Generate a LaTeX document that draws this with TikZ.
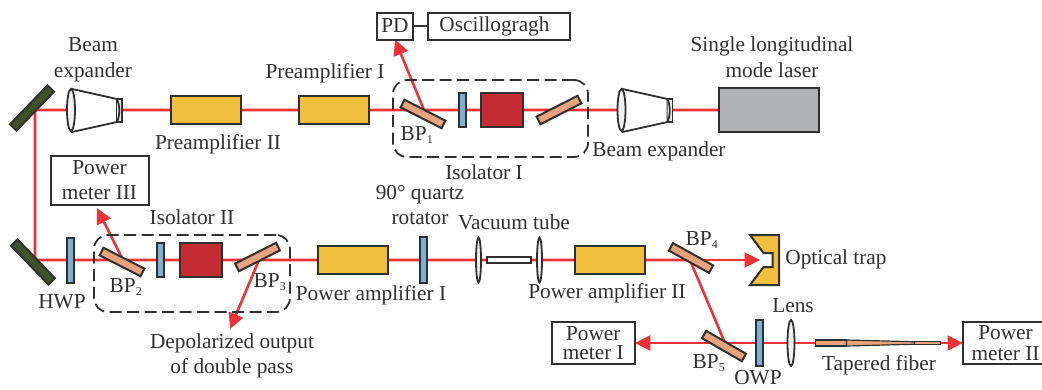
\documentclass[tikz,border=0pt]{standalone}
\usepackage{fontspec}
\setmainfont{Liberation Serif}
\usetikzlibrary{arrows.meta,backgrounds,shapes.geometric}
\definecolor{inkgray}{HTML}{303030}
\definecolor{beamred}{HTML}{EE3338}
\definecolor{ampyellow}{HTML}{F1BF3E}
\definecolor{isored}{HTML}{C42B33}
\definecolor{waveblue}{HTML}{7FAFD6}
\definecolor{platesalmon}{HTML}{E9A37C}
\definecolor{mirrorgreen}{HTML}{3F5229}
\definecolor{lasergray}{HTML}{B1B2B4}
\newcommand{\bpname}[1]{BP\textsubscript{\fontsize{12}{12}\selectfont #1}}
\tikzset{
  part/.style={draw=inkgray,line width=2pt,inner sep=0pt,outer sep=0pt},
  amp/.style={part,fill=ampyellow,minimum width=70pt,minimum height=28pt},
  faraday/.style={part,fill=isored,minimum width=42pt,minimum height=34pt},
  wave/.style={part,fill=waveblue,minimum width=7pt},
  plate/.style={part,fill=platesalmon,minimum width=46pt,minimum height=8.5pt},
  mirror/.style={part,fill=mirrorgreen,minimum width=54pt,minimum height=9pt},
  lens/.style={part,ellipse,fill=gray!12,line width=1.8pt},
  boxed/.style={part,align=center,font=\fontsize{21.3}{25}\selectfont,text=inkgray},
  lbl/.style={align=center,inner sep=0pt,font=\fontsize{21.3}{25.5}\selectfont,text=inkgray},
  isobox/.style={draw=inkgray,line width=1.8pt,rounded corners=14pt,dash pattern=on 12pt off 5.5pt},
  beam/.style={draw=beamred,line width=2.6pt},
  ray/.style={beam,-{Triangle[length=15.5pt,width=15pt]}},
  expander/.pic={
    \draw[part,fill=white,line width=1.8pt] (1,-21) -- (46,-11) -- (46,12) -- (1,22) -- cycle;
    \draw[part,fill=gray!15,line width=1.8pt] (46,-11) rectangle (51,12);
    \draw[part,fill=white,line width=1.8pt] (46,-11) .. controls (49,-4) and (49,5) .. (46,12);
    \node[lens,minimum width=8pt,minimum height=42pt] at (0,0) (-lens) {};
    \coordinate (-rear) at (51,0);
  }
}

\begin{document}
\begin{tikzpicture}[x=1pt,y=-1pt]
  \useasboundingbox (0,0) rectangle (1042,389);
  % first row
  \node[part,fill=lasergray,minimum width=100pt,minimum height=44pt] at (769,110) (laser) {};
  \pic (expB) at (621.5,110) {expander};
  \pic (expA) at (71,110) {expander};
  \node[amp] at (205.5,110) (preB) {};
  \node[amp] at (334,110) (preA) {};
  \node[plate,rotate=-27] at (423,114) (bpA) {};
  \node[wave,minimum height=34pt] at (462,110) (waveA) {};
  \node[faraday] at (502,110) (farA) {};
  \node[plate,rotate=27] at (559,110) (bpAb) {};
  \node[mirror,rotate=46] at (32,108) (mirA) {};
  \node[isobox,minimum width=195pt,minimum height=77pt] at (490.5,118.5) (isoA) {};
  \node[boxed,minimum width=36pt,minimum height=27pt] at (395,26) (pd) {PD};
  \node[boxed,minimum width=142pt,minimum height=27pt] at (498.5,26) (osc) {Oscillogragh\hspace{8pt}};
  \coordinate (hitA) at (424,110);
  \coordinate (hitM) at (35,110);
  % second row
  \node[mirror,rotate=-46] at (33,262) (mirB) {};
  \node[wave,minimum height=45pt] at (70.5,260) (hwp) {};
  \node[plate,rotate=-27] at (122,262) (bpB) {};
  \node[wave,minimum height=34pt] at (160.5,260) (waveB) {};
  \node[faraday] at (200.5,260) (farB) {};
  \node[plate,rotate=27] at (257.5,257) (bpC) {};
  \node[isobox,minimum width=196pt,minimum height=77pt] at (192,273.5) (isoB) {};
  \node[amp] at (353,260) (powA) {};
  \node[wave,minimum height=46pt] at (423,260) (rot) {};
  \node[lens,minimum width=5pt,minimum height=45pt] at (478.5,260) (lensA) {};
  \node[part,fill=white,minimum width=44pt,minimum height=6pt] at (508.5,260) (tube) {};
  \node[lens,minimum width=5pt,minimum height=45pt] at (539.5,260) (lensB) {};
  \node[amp] at (610,260) (powB) {};
  \node[plate,rotate=-29] at (691,258) (bpD) {};
  \node[boxed,minimum width=98pt,minimum height=49pt] at (99.5,180) (pmC) {Power\\meter III};
  \coordinate (hitB) at (123,260);
  \coordinate (hitC) at (259,260);
  \coordinate (hitD) at (690,260);
  \coordinate (hitN) at (35,260);
  \coordinate (tipC) at (97,208);
  \coordinate (tipD) at (230,329);
  \coordinate (trapin) at (760,260);
  \draw[part,fill=ampyellow] (750,235) -- (779,235) -- (779,285) -- (750,285) -- (763.5,267) -- (772.5,267) -- (772.5,253) -- (763.5,253) -- cycle;
  % third row
  \node[plate,rotate=-30] at (724,346) (bpE) {};
  \node[boxed,minimum width=83pt,minimum height=42pt,font=\fontsize{21.3}{19.5}\selectfont] at (593.3,343) (pmA) {Power\\meter I};
  \node[wave,minimum height=46pt] at (759.7,343) (owp) {};
  \node[lens,minimum width=7pt,minimum height=46pt] at (791,343) (lensC) {};
  \node[part,fill=platesalmon,minimum width=31pt,minimum height=6pt,line width=1.8pt] at (831,343) (fibA) {};
  \node[part,fill=platesalmon,minimum width=26pt,minimum height=2.5pt,line width=1.2pt] at (927.5,343) (fibB) {};
  \draw[part,fill=platesalmon,line width=1.2pt] (fibA.north east) -- (fibB.north west) -- (fibB.south west) -- (fibA.south east) -- cycle;
  \node[boxed,minimum width=85pt,minimum height=42pt,font=\fontsize{21.3}{21}\selectfont] at (1005.5,343) (pmB) {Power\\meter II};
  \coordinate (hitE) at (725,343);
  \begin{scope}[on background layer]
    \draw[beam] (laser) -- (expB-rear) (expB-lens) -- (bpAb) -- (farA) -- (waveA) -- (hitA) -- (preA) -- (preB) -- (expA-rear);
    \draw[beam] (expA-lens) -- (hitM) -- (hitN) -- (hwp) -- (hitB) -- (waveB) -- (farB) -- (hitC) -- (powA) -- (rot) -- (lensA) -- (tube) -- (lensB) -- (powB) -- (hitD) -- (hitE);
    \draw[beam] (hitE) -- (owp) -- (lensC) -- (fibA);
    \draw[ray] (hitA) -- (pd.south);
    \draw[ray] (hitB) -- (tipC);
    \draw[ray] (hitC) -- (tipD);
    \draw[ray] (hitD) -- (trapin);
    \draw[ray] (hitE) -- (pmA);
    \draw[ray] (fibB) -- (pmB);
  \end{scope}
  \draw[part] (pd) -- (osc);
  % labels
  \node[lbl] at (93,60) (lblexpA) {Beam\\expander};
  \node[lbl] at (218,144) (lblpreB) {Preamplifier II};
  \node[lbl] at (325,73) (lblpreA) {Preamplifier I};
  \node[lbl] at (772,57) (lbllaser) {Single longitudinal\\mode laser};
  \node[lbl] at (659,151) (lblexpB) {Beam expander};
  \node[lbl] at (484,172) (lblisoA) {Isolator I};
  \node[lbl] at (417,135) (lblbpA) {\bpname{1}};
  \node[lbl] at (420,205) (lblrot) {90° quartz\\rotator};
  \node[lbl] at (514,222) (lbltube) {Vacuum tube};
  \node[lbl] at (192,217) (lblisoB) {Isolator II};
  \node[lbl] at (62,302) (lblhwp) {HWP};
  \node[lbl] at (126,287) (lblbpB) {\bpname{2}};
  \node[lbl] at (270,282) (lblbpC) {\bpname{3}};
  \node[lbl] at (371,295) (lblpowA) {Power amplifier I};
  \node[lbl] at (607,293) (lblpowB) {Power amplifier II};
  \node[lbl] at (232,356) (lbldep) {Depolarized output\\of double pass};
  \node[lbl] at (702,240) (lblbpD) {\bpname{4}};
  \node[lbl] at (836,259) (lbltrap) {Optical trap};
  \node[lbl] at (793,306) (lbllens) {Lens};
  \node[lbl] at (709,363) (lblbpE) {\bpname{5}};
  \node[lbl] at (758,378) (lblowp) {OWP};
  \node[lbl] at (879,365) (lblfib) {Tapered fiber};
\end{tikzpicture}
\end{document}
